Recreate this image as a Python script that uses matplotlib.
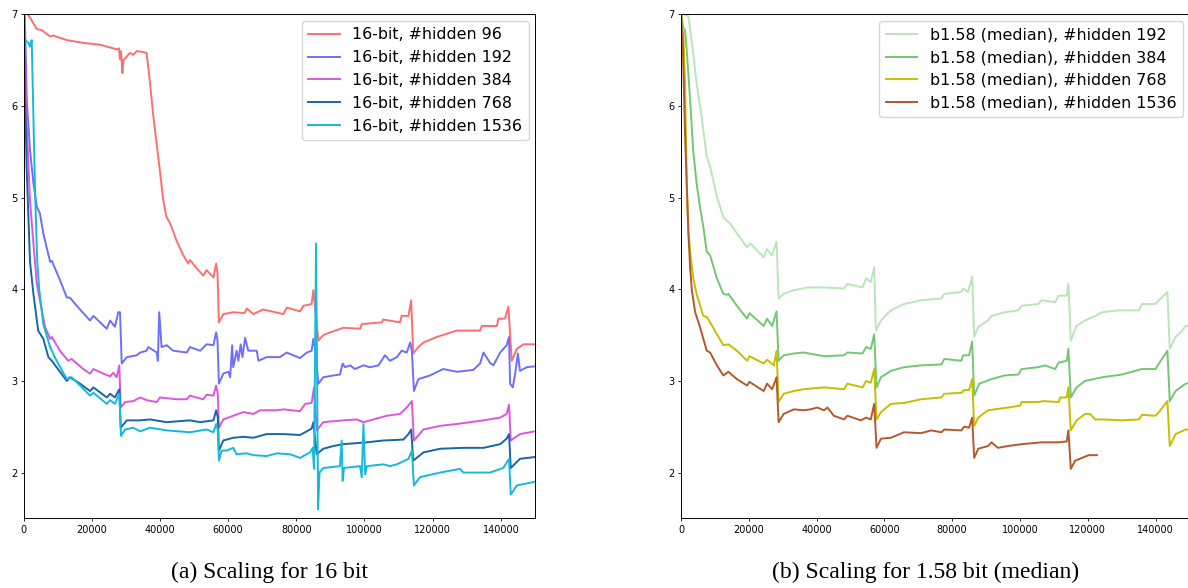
import matplotlib
matplotlib.use('Agg')
import matplotlib.pyplot as plt

# (step, loss) pairs
fp16_h96 = [(0, 7.2), (1300, 7.0), (2000, 6.96), (3900, 6.84), (5300, 6.83), (7800, 6.76), (8700, 6.77),
            (12700, 6.72), (17500, 6.69), (22400, 6.67), (27300, 6.62), (28000, 6.63), (28300, 6.51),
            (28600, 6.60), (29000, 6.36), (29300, 6.50), (29800, 6.52), (31200, 6.58), (32200, 6.56),
            (33200, 6.60), (35100, 6.59), (36100, 6.58), (37100, 6.25), (38100, 5.88), (39500, 5.45),
            (41000, 4.97), (41900, 4.79), (43000, 4.72), (44900, 4.53), (46900, 4.37), (48300, 4.28),
            (48800, 4.32), (50800, 4.23), (52700, 4.15), (53700, 4.21), (55700, 4.13), (56500, 4.28),
            (56900, 4.17), (57300, 3.64), (58600, 3.73), (61500, 3.75), (64800, 3.74), (65500, 3.79),
            (67400, 3.73), (70300, 3.78), (76200, 3.73), (77200, 3.80), (81100, 3.76), (82100, 3.82),
            (84500, 3.84), (85000, 3.99), (85500, 3.80), (86500, 3.44), (87900, 3.50), (89900, 3.53),
            (93800, 3.58), (98700, 3.57), (99200, 3.62), (105100, 3.64), (105500, 3.67), (110400, 3.64),
            (110900, 3.71), (112900, 3.71), (113700, 3.88), (114300, 3.30), (115800, 3.37), (117300, 3.42),
            (121200, 3.48), (127100, 3.55), (133900, 3.55), (134400, 3.60), (138800, 3.60), (139300, 3.68),
            (141200, 3.68), (142200, 3.81), (143200, 3.22), (144700, 3.35), (146600, 3.40), (150000, 3.40)]

fp16_h192 = [(0, 7.3), (500, 6.8), (940, 6.07), (1900, 5.52), (2900, 5.16), (3900, 4.90), (4800, 4.83),
             (5800, 4.61), (7800, 4.30), (8300, 4.31), (10700, 4.10), (12700, 3.91), (13600, 3.91),
             (15600, 3.82), (19500, 3.66), (20500, 3.71), (24400, 3.57), (25400, 3.66), (26800, 3.59),
             (27800, 3.75), (28300, 3.75), (28800, 3.19), (30300, 3.26), (33200, 3.28), (34200, 3.31),
             (36100, 3.33), (36600, 3.37), (39100, 3.31), (39400, 3.22), (39800, 3.75), (40500, 3.37),
             (42000, 3.39), (43900, 3.33), (47900, 3.31), (48800, 3.37), (51800, 3.33), (53700, 3.40),
             (55700, 3.39), (56500, 3.53), (56900, 3.44), (57300, 2.97), (58600, 3.08), (60100, 3.10),
             (60600, 3.04), (61200, 3.39), (61500, 3.15), (62500, 3.33), (63000, 3.22), (63700, 3.40),
             (64200, 3.26), (65000, 3.47), (65900, 3.33), (68400, 3.33), (68900, 3.22), (71300, 3.26),
             (75200, 3.26), (77200, 3.31), (79100, 3.28), (81100, 3.25), (83100, 3.31), (84500, 3.33),
             (85000, 3.46), (85500, 3.35), (86500, 2.97), (87900, 3.04), (90900, 3.06), (92800, 3.07),
             (93600, 3.19), (94300, 3.15), (95800, 3.17), (97200, 3.13), (99700, 3.17), (101600, 3.15),
             (104100, 3.17), (106000, 3.28), (107500, 3.22), (109500, 3.26), (110900, 3.33), (112400, 3.31),
             (113400, 3.42), (113900, 3.33), (114500, 2.89), (115800, 3.02), (119200, 3.06), (123100, 3.13),
             (127100, 3.10), (131900, 3.12), (133900, 3.19), (134900, 3.31), (136800, 3.20), (137800, 3.17),
             (139800, 3.31), (141700, 3.39), (142400, 3.48), (142700, 2.97), (143500, 2.93), (144200, 3.08),
             (145000, 3.30), (145600, 3.11), (147600, 3.15), (150000, 3.16)]

fp16_h384 = [(0, 7.3), (500, 6.5), (940, 5.8), (1900, 4.97), (2900, 4.50), (3900, 4.06), (4800, 3.88),
             (6300, 3.59), (7800, 3.46), (8300, 3.48), (10700, 3.33), (13100, 3.22), (14100, 3.24),
             (17500, 3.13), (19500, 3.08), (20500, 3.13), (23400, 3.08), (25400, 3.05), (26300, 3.09),
             (27300, 3.04), (28100, 3.17), (28500, 2.71), (29800, 2.77), (32200, 2.78), (34200, 2.82),
             (36100, 2.79), (39100, 2.77), (40000, 2.82), (44900, 2.80), (47900, 2.80), (48800, 2.84),
             (52700, 2.80), (53700, 2.85), (55700, 2.84), (56500, 2.95), (57000, 2.85), (57300, 2.49),
             (58600, 2.58), (61500, 2.62), (64500, 2.66), (67400, 2.64), (69400, 2.68), (74300, 2.68),
             (76200, 2.69), (81100, 2.67), (82600, 2.75), (84500, 2.76), (85200, 2.93), (86000, 2.46),
             (87900, 2.55), (93800, 2.57), (97700, 2.58), (99700, 2.55), (106500, 2.62), (110400, 2.64),
             (112400, 2.71), (113900, 2.78), (114500, 2.35), (117300, 2.47), (122200, 2.51), (127100, 2.53),
             (134900, 2.57), (139800, 2.60), (141700, 2.64), (142400, 2.74), (142900, 2.35), (145600, 2.42),
             (150000, 2.45)]

fp16_h768 = [(0, 7.3), (440, 6.1), (940, 5.3), (1900, 4.30), (2900, 3.95), (4300, 3.55), (5800, 3.46),
             (7300, 3.26), (8300, 3.22), (9700, 3.15), (12700, 3.00), (13600, 3.04), (16600, 2.97),
             (19500, 2.89), (20500, 2.93), (24400, 2.82), (25400, 2.86), (26800, 2.82), (28100, 2.91),
             (28500, 2.49), (30300, 2.57), (34200, 2.57), (37100, 2.58), (42000, 2.55), (48800, 2.57),
             (51800, 2.55), (55700, 2.57), (56500, 2.68), (57000, 2.60), (57300, 2.24), (58600, 2.35),
             (61500, 2.38), (64500, 2.39), (67400, 2.38), (71300, 2.42), (76200, 2.42), (81100, 2.41),
             (82100, 2.43), (84500, 2.48), (85000, 2.55), (86000, 2.20), (87900, 2.26), (90900, 2.29),
             (93800, 2.31), (100700, 2.33), (105500, 2.35), (111400, 2.36), (112900, 2.42), (113700, 2.47),
             (114300, 2.13), (117300, 2.22), (122200, 2.26), (129000, 2.27), (134900, 2.27), (139800, 2.31),
             (141700, 2.37), (142400, 2.42), (142900, 2.05), (145600, 2.15), (150000, 2.17)]

fp16_h1536 = [(0, 7.2), (440, 6.72), (1400, 6.69), (1900, 6.65), (2400, 6.72), (2900, 5.88), (3400, 5.05),
              (4000, 4.32), (4600, 4.00), (5800, 3.62), (7800, 3.37), (9700, 3.22), (12700, 3.02),
              (14100, 3.04), (16600, 2.95), (19500, 2.84), (20500, 2.87), (24400, 2.75), (25400, 2.79),
              (26800, 2.75), (28100, 2.86), (28600, 2.40), (29800, 2.47), (32200, 2.49), (34200, 2.45),
              (37100, 2.49), (42000, 2.46), (48800, 2.44), (53700, 2.47), (55700, 2.44), (56500, 2.53),
              (57000, 2.46), (57300, 2.13), (58100, 2.24), (59600, 2.24), (61500, 2.27), (62500, 2.20),
              (65500, 2.21), (67400, 2.19), (71300, 2.18), (74300, 2.21), (78200, 2.20), (81100, 2.16),
              (84000, 2.22), (84800, 2.27), (85200, 2.04), (85800, 4.50), (86400, 1.60), (86800, 2.00),
              (87900, 2.05), (92800, 2.07), (93300, 2.35), (93600, 1.91), (94000, 2.05), (98700, 2.07),
              (99200, 1.95), (99700, 2.53), (100200, 1.98), (100700, 2.07), (105500, 2.09), (107500, 2.07),
              (109500, 2.09), (112900, 2.15), (113900, 2.24), (114500, 1.86), (116300, 1.95), (122200, 2.00),
              (128000, 2.04), (129000, 2.00), (136800, 2.00), (140700, 2.05), (142400, 2.15), (142900, 1.76),
              (144700, 1.86), (150000, 1.90)]

b158_h192 = [(0, 7.3), (1200, 7.0), (2200, 6.98), (3600, 6.58), (4600, 6.25), (6100, 5.88), (7600, 5.45),
             (8600, 5.34), (10600, 5.01), (12500, 4.79), (13500, 4.75), (14500, 4.72), (16500, 4.61),
             (19500, 4.46), (20500, 4.50), (24400, 4.35), (25400, 4.44), (26900, 4.37), (28200, 4.52),
             (28800, 3.90), (30300, 3.95), (33300, 3.99), (37300, 4.02), (42200, 4.02), (48100, 4.01),
             (49100, 4.06), (53600, 4.02), (54600, 4.12), (56000, 4.08), (57000, 4.24), (57500, 3.55),
             (59000, 3.66), (61900, 3.77), (65800, 3.84), (70800, 3.88), (76800, 3.90), (77700, 3.95),
             (82700, 3.97), (83200, 4.01), (84700, 3.97), (85900, 4.14), (86500, 3.48), (87700, 3.59),
             (90600, 3.66), (91600, 3.71), (95500, 3.75), (99500, 3.77), (100500, 3.82), (105400, 3.84),
             (106400, 3.88), (110400, 3.86), (111400, 3.93), (113800, 3.93), (114300, 4.06), (115000, 3.44),
             (116700, 3.60), (119200, 3.66), (122200, 3.71), (124200, 3.75), (129100, 3.77), (135100, 3.77),
             (136000, 3.84), (140000, 3.84), (141000, 3.88), (143500, 3.97), (144200, 3.35), (145900, 3.48),
             (147400, 3.53), (148900, 3.60), (150000, 3.60)]

b158_h384 = [(0, 7.3), (200, 6.97), (700, 6.85), (1200, 6.83), (1700, 6.61), (2700, 6.07), (3600, 5.52),
             (4600, 5.16), (5600, 4.90), (6600, 4.68), (7600, 4.41), (8600, 4.37), (10600, 4.12),
             (12500, 3.95), (13500, 3.94), (14000, 3.95), (16500, 3.82), (19500, 3.68), (20200, 3.74),
             (24400, 3.60), (25400, 3.68), (26900, 3.60), (28200, 3.76), (28800, 3.22), (30300, 3.28),
             (33300, 3.30), (36200, 3.31), (42200, 3.27), (48100, 3.28), (49100, 3.31), (53600, 3.30),
             (54600, 3.37), (56000, 3.35), (57000, 3.51), (57700, 2.93), (59000, 3.04), (61900, 3.11),
             (65800, 3.15), (70800, 3.17), (76800, 3.18), (77700, 3.24), (82700, 3.22), (83200, 3.28),
             (85000, 3.28), (85900, 3.43), (86500, 2.84), (88000, 2.97), (91600, 3.02), (95500, 3.06),
             (99500, 3.07), (100500, 3.13), (105400, 3.15), (107400, 3.17), (110400, 3.13), (111400, 3.20),
             (113800, 3.22), (114300, 3.35), (115000, 2.82), (116700, 2.93), (119200, 3.00), (124200, 3.04),
             (130100, 3.07), (136000, 3.13), (140000, 3.13), (141000, 3.19), (143500, 3.33), (144200, 2.78),
             (145900, 2.89), (148900, 2.97), (150000, 2.98)]

b158_h768 = [(0, 7.2), (200, 6.85), (700, 6.80), (1200, 6.25), (1700, 5.16), (2200, 4.61), (3200, 4.24),
             (3600, 4.13), (4600, 3.95), (6600, 3.71), (7600, 3.70), (8600, 3.64), (10600, 3.51),
             (12500, 3.39), (14000, 3.40), (16500, 3.33), (19500, 3.22), (20200, 3.27), (24400, 3.19),
             (25400, 3.23), (27400, 3.17), (28200, 3.33), (28800, 2.77), (30300, 2.86), (33300, 2.89),
             (36200, 2.91), (42200, 2.93), (48100, 2.91), (49100, 2.97), (53600, 2.93), (54600, 3.00),
             (56000, 2.98), (57000, 3.13), (57700, 2.58), (59000, 2.66), (61900, 2.75), (65800, 2.76),
             (70800, 2.80), (76800, 2.82), (77700, 2.86), (82700, 2.87), (83500, 2.90), (85000, 2.90),
             (85900, 3.02), (86500, 2.51), (87700, 2.60), (90600, 2.68), (96500, 2.71), (100000, 2.73),
             (100500, 2.77), (105400, 2.77), (106900, 2.78), (111400, 2.77), (111900, 2.82), (113800, 2.82),
             (114300, 2.93), (115000, 2.46), (116700, 2.57), (119200, 2.64), (120700, 2.64), (122200, 2.58),
             (124200, 2.58), (130100, 2.57), (135100, 2.58), (136000, 2.63), (140000, 2.62), (141000, 2.66),
             (143500, 2.78), (144200, 2.29), (145900, 2.42), (148900, 2.47), (150000, 2.47)]

b158_h1536 = [(0, 7.0), (200, 6.85), (500, 6.72), (1200, 5.70), (2200, 4.61), (2700, 4.24), (3200, 3.99),
              (4200, 3.75), (5600, 3.59), (7600, 3.33), (8600, 3.31), (10600, 3.17), (12500, 3.06),
              (14000, 3.10), (16500, 3.02), (19500, 2.95), (20200, 2.99), (24400, 2.89), (25400, 2.97),
              (26900, 2.91), (28200, 3.04), (28800, 2.55), (30300, 2.64), (33300, 2.69), (36200, 2.68),
              (38200, 2.69), (40200, 2.71), (42200, 2.68), (43200, 2.71), (45100, 2.62), (48100, 2.58),
              (49100, 2.62), (53100, 2.57), (54600, 2.60), (56000, 2.58), (57000, 2.75), (57700, 2.27),
              (59000, 2.37), (61900, 2.38), (65800, 2.44), (70800, 2.43), (73800, 2.46), (76800, 2.44),
              (77700, 2.47), (82700, 2.46), (83500, 2.50), (85000, 2.49), (85900, 2.60), (86500, 2.16),
              (87700, 2.26), (90600, 2.29), (91600, 2.33), (93500, 2.27), (96500, 2.29), (100500, 2.31),
              (106400, 2.33), (111400, 2.33), (113800, 2.34), (114300, 2.46), (115000, 2.04), (116300, 2.13),
              (118300, 2.16), (120300, 2.19), (122700, 2.19)]

fp16_series = [fp16_h96, fp16_h192, fp16_h384, fp16_h768, fp16_h1536]
fp16_labels = ['16-bit, #hidden 96', '16-bit, #hidden 192', '16-bit, #hidden 384',
               '16-bit, #hidden 768', '16-bit, #hidden 1536']
fp16_colors = ['#ff6e6e', '#6e6eff', '#de55de', '#1766aa', '#14b9dc']

b158_series = [b158_h192, b158_h384, b158_h768, b158_h1536]
b158_labels = ['b1.58 (median), #hidden 192', 'b1.58 (median), #hidden 384',
               'b1.58 (median), #hidden 768', 'b1.58 (median), #hidden 1536']
b158_colors = ['#b9e6b9', '#72c872', '#c6bf00', '#b5582c']

xticks = [0, 20000, 40000, 60000, 80000, 100000, 120000, 140000]
yticks = [2, 3, 4, 5, 6, 7]


def draw(ax, series, labels, colors):
    for data, label, color in zip(series, labels, colors):
        steps, loss = zip(*data)
        ax.plot(steps, loss, color=color, linewidth=1.4, label=label)
    ax.set_xlim(0, 150000)
    ax.set_ylim(1.5, 7)
    ax.set_xticks(xticks)
    ax.set_yticks(yticks)
    ax.tick_params(labelsize=7, length=2.5, width=0.6, pad=2)
    for spine in ax.spines.values():
        spine.set_linewidth(0.7)
    ax.legend(loc='upper right', fontsize=11.4, borderaxespad=0.4)


def main():
    fig = plt.figure(figsize=(11.88, 5.88), dpi=100)
    ax1 = fig.add_axes([0.0198, 0.1184, 0.4305, 0.857])
    ax2 = fig.add_axes([0.5732, 0.1184, 0.428, 0.857])

    draw(ax1, fp16_series, fp16_labels, fp16_colors)
    draw(ax2, b158_series, b158_labels, b158_colors)

    fig.text(0.227, 0.026, '(a) Scaling for 16 bit', ha='center', va='center',
             family='Liberation Serif', fontsize=17)
    fig.text(0.779, 0.026, '(b) Scaling for 1.58 bit (median)', ha='center', va='center',
             family='Liberation Serif', fontsize=17)

    fig.savefig('out.png', dpi=100)


if __name__ == '__main__':
    main()
